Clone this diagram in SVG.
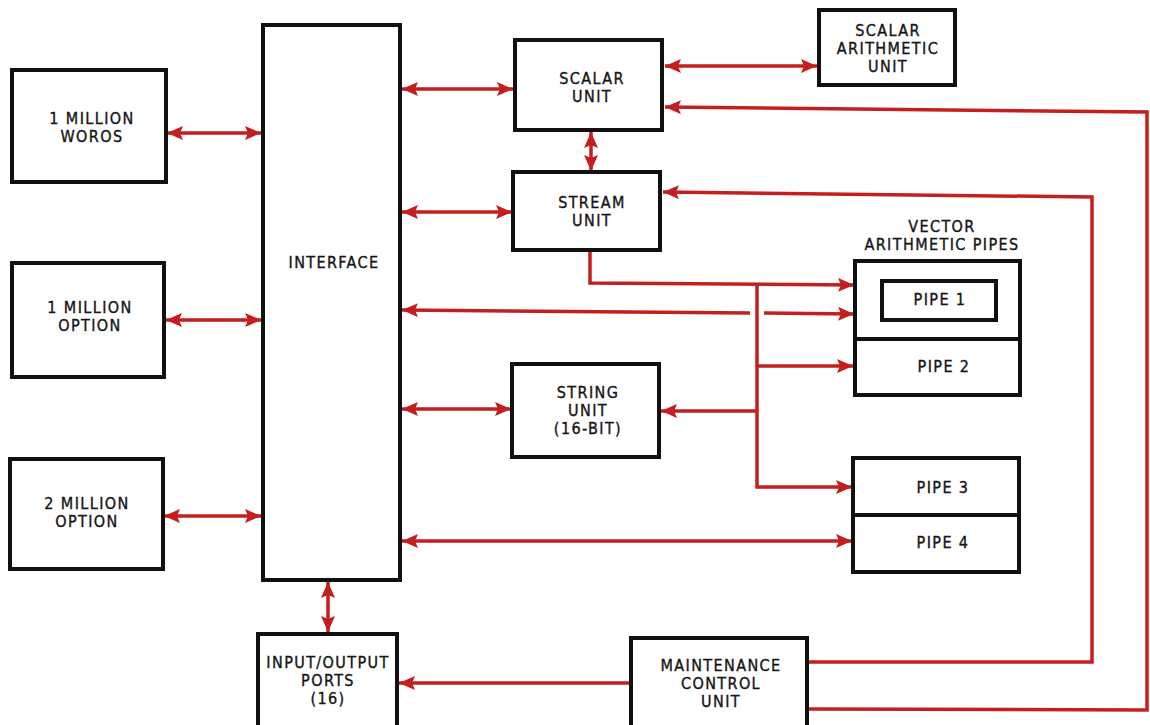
<svg xmlns="http://www.w3.org/2000/svg" width="1150" height="725" viewBox="0 0 1150 725">
<style>
.box{fill:#fff;stroke:#111;stroke-width:4}
.t{font-family:"DejaVu Sans Condensed","DejaVu Sans",sans-serif;font-size:16px;letter-spacing:1.4px;fill:#151515;stroke:#151515;stroke-width:0.35;text-anchor:middle}
.c{fill:none;stroke:#c41e1e;stroke-width:3.5;stroke-linejoin:miter}
.a2{marker-start:url(#ah);marker-end:url(#ah)}
.a1{marker-end:url(#ah)}
.a0{marker-start:url(#ah)}
</style>
<defs>
<marker id="ah" markerUnits="userSpaceOnUse" markerWidth="18" markerHeight="14" refX="16" refY="7" orient="auto-start-reverse">
<path d="M0,0 L16,7 L0,14 L3,7 z" fill="#c41e1e"/>
</marker>
</defs>
<rect width="1150" height="725" fill="#fff"/>
<g id="connectors">
<path class="c a2" d="M167,133 H261"/>
<path class="c a2" d="M166,320 H261"/>
<path class="c a2" d="M164,516 H261"/>
<path class="c a2" d="M402,89 H513"/>
<path class="c a2" d="M665,66 H817"/>
<path class="c a1" d="M808,709 L1147,710 L1147,112 L665,107"/>
<path class="c a1" d="M808,662 L1092,662 L1092,197 L663,192"/>
<path class="c a2" d="M591,132 V171"/>
<path class="c a2" d="M402,212 H512"/>
<path class="c a1" d="M590,251 V283 L854,285"/>
<path class="c a1" d="M757,284 V487 H852"/>
<path class="c a1" d="M757,366 H853"/>
<path class="c a1" d="M757,411 H661"/>
<path class="c a0" d="M402,310 L750,313"/>
<path class="c a1" d="M764,313 L854,314"/>
<path class="c a2" d="M402,409 H511"/>
<path class="c a2" d="M402,541 H852"/>
<path class="c a2" d="M328,582 V632"/>
<path class="c a1" d="M630,683 H399"/>
</g>
<g id="n-1m-words"><rect class="box" x="12" y="70" width="154" height="112"/><text class="t" x="92" y="124">1 MILLION</text><text class="t" x="92" y="142">WOROS</text></g>
<g id="n-1m-option"><rect class="box" x="12" y="263" width="152" height="114"/><text class="t" x="90" y="313">1 MILLION</text><text class="t" x="90" y="331">OPTION</text></g>
<g id="n-2m-option"><rect class="box" x="10" y="459" width="153" height="110"/><text class="t" x="87" y="509">2 MILLION</text><text class="t" x="87" y="527">OPTION</text></g>
<g id="n-interface"><rect class="box" x="263" y="25" width="137" height="555"/><text class="t" x="334" y="268">INTERFACE</text></g>
<g id="n-scalar-unit"><rect class="box" x="515" y="40" width="147" height="90"/><text class="t" x="592" y="84">SCALAR</text><text class="t" x="592" y="102">UNIT</text></g>
<g id="n-sau"><rect class="box" x="819" y="10" width="136" height="75"/><text class="t" x="888" y="36">SCALAR</text><text class="t" x="888" y="54">ARITHMETIC</text><text class="t" x="888" y="72">UNIT</text></g>
<g id="n-stream-unit"><rect class="box" x="513" y="172" width="147" height="78"/><text class="t" x="592" y="208">STREAM</text><text class="t" x="592" y="226">UNIT</text></g>
<g id="n-vector-pipes"><text class="t" x="942" y="232">VECTOR</text><text class="t" x="942" y="250">ARITHMETIC PIPES</text>
<rect class="box" x="855" y="261" width="165" height="134"/><line x1="855" y1="339" x2="1020" y2="339" stroke="#111" stroke-width="4"/>
<rect class="box" x="882" y="281" width="114" height="39"/><text class="t" x="940" y="305">PIPE 1</text><text class="t" x="944" y="372">PIPE 2</text></g>
<g id="n-string-unit"><rect class="box" x="512" y="364" width="147" height="93"/><text class="t" x="588" y="398">STRING</text><text class="t" x="588" y="416">UNIT</text><text class="t" x="588" y="434">(16-BIT)</text></g>
<g id="n-pipes-34"><rect class="box" x="853" y="458" width="166" height="114"/><line x1="853" y1="515" x2="1019" y2="515" stroke="#111" stroke-width="4"/><text class="t" x="943" y="493">PIPE 3</text><text class="t" x="943" y="548">PIPE 4</text></g>
<g id="n-io"><rect class="box" x="258" y="634" width="139" height="93"/><text class="t" x="328" y="668">INPUT/OUTPUT</text><text class="t" x="328" y="686">PORTS</text><text class="t" x="328" y="704">(16)</text></g>
<g id="n-mcu"><rect class="box" x="631" y="638" width="176" height="89"/><text class="t" x="721" y="671">MAINTENANCE</text><text class="t" x="721" y="689">CONTROL</text><text class="t" x="721" y="707">UNIT</text></g>
</svg>
